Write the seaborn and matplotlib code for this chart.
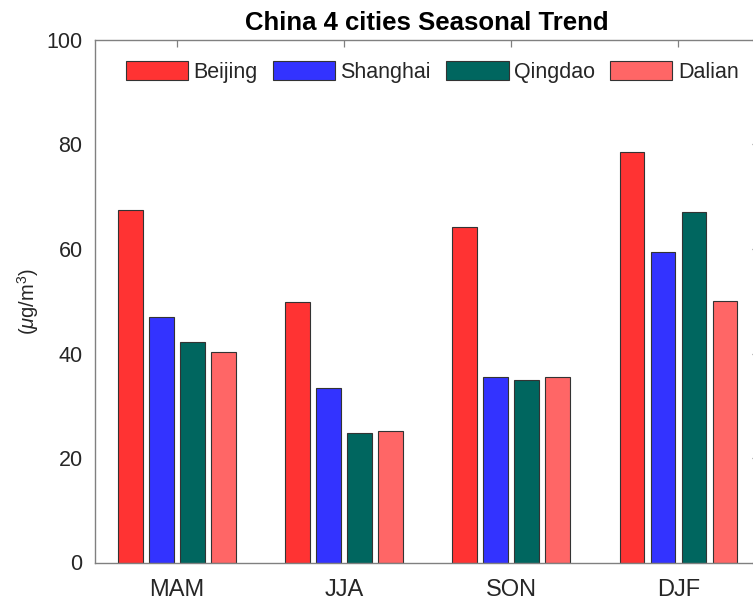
import matplotlib
matplotlib.use("Agg")
import matplotlib.pyplot as plt
import seaborn as sns
import pandas as pd
from matplotlib.patches import Patch

seasons = ["MAM", "JJA", "SON", "DJF"]
cities = ["Beijing", "Shanghai", "Qingdao", "Dalian"]
beijing = [67.5, 49.8, 64.2, 78.6]
shanghai = [46.9, 33.4, 35.5, 59.4]
qingdao = [42.2, 24.7, 35.0, 67.0]
dalian = [40.2, 25.1, 35.5, 50.0]
colors = ["#FF3333", "#3333FF", "#00665F", "#FF6666"]
yticks = [0, 20, 40, 60, 80, 100]

df = pd.DataFrame({
    "season": seasons * 4,
    "city": [c for c in cities for _ in seasons],
    "value": beijing + shanghai + qingdao + dalian,
})

sns.set_theme(style="white")
plt.rcParams["font.family"] = ["Liberation Sans", "DejaVu Sans"]
plt.rcParams["mathtext.fontset"] = "custom"
plt.rcParams["mathtext.rm"] = "Liberation Sans"
plt.rcParams["mathtext.it"] = "Liberation Sans:italic"

W, H = 753, 608
fig = plt.figure(figsize=(W / 100, H / 100), dpi=100)
left, right, bottom, top = 95, 758.5, 562.5, 40
ax = fig.add_axes([left / W, (H - bottom) / H, (right - left) / W, (bottom - top) / H])

sns.barplot(data=df, x="season", y="value", hue="city", order=seasons,
            hue_order=cities, palette=colors, width=0.742, gap=0.21,
            edgecolor="#333333", linewidth=0.8, saturation=1, ax=ax,
            legend=False)

ax.set_xlim(-0.49, 3.48)
ax.set_ylim(0, 100)
ax.set_yticks(yticks)
ax.set_xlabel("")
ax.set_ylabel(r"($\mu$g/m$^3$)", fontsize=14.5, color="#262626", labelpad=4)

for s in ax.spines.values():
    s.set_color("#808080")
    s.set_linewidth(1.0)
    s.set_visible(True)

ax.tick_params(axis="both", direction="in", length=4.8, width=0.9,
               color="#808080", top=True, right=True)
ax.tick_params(axis="x", labelsize=17, labelcolor="#262626", pad=12)
ax.tick_params(axis="y", labelsize=15.5, labelcolor="#262626", pad=9)

ax.set_title("China 4 cities Seasonal Trend", fontsize=18.5, fontweight="bold",
             color="black", pad=7)

handles = [Patch(facecolor=c, edgecolor="#333333", linewidth=0.8) for c in colors]
ax.legend(handles, cities, ncol=4, loc="upper center",
          bbox_to_anchor=(0.508, 1 - 21 / 522), frameon=False, fontsize=15.5,
          handlelength=2.9, handleheight=1.0, handletextpad=0.25,
          columnspacing=0.7, borderpad=0, borderaxespad=0)

fig.savefig("out.png", dpi=100)
